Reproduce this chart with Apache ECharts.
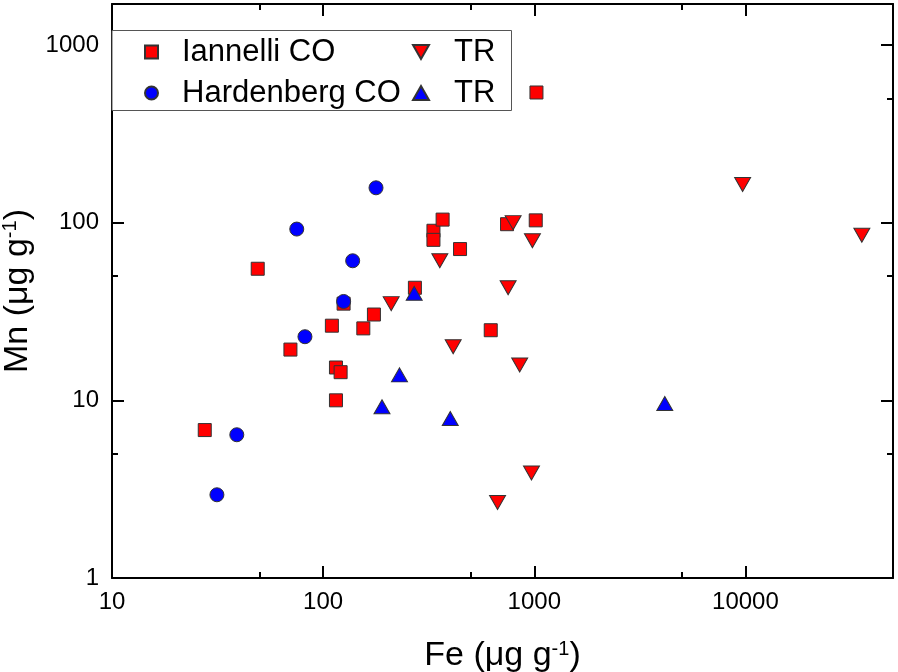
<!DOCTYPE html>
<html><head><meta charset="utf-8">
<script src="https://cdn.jsdelivr.net/npm/echarts@6/dist/echarts.min.js"></script>
<style>html,body{margin:0;padding:0;background:#fff}#c{width:898px;height:672px}</style>
</head><body><div id="c"></div>
<script>
// Iannelli CO (red squares)
const iannelliCO_Fe = [27.5, 49, 70, 110, 115, 121, 115, 125, 155, 174, 272, 333, 333, 368, 445, 622, 743, 1016, 1024];
const iannelliCO_Mn = [6.8, 55, 19.3, 26.3, 15.3, 14.4, 10, 35, 25.4, 30.4, 43, 90, 80, 104, 71, 24.8, 98, 103, 540];
// Iannelli TR (red down triangles)
const iannelliTR_Fe = [210, 357, 413, 670, 752, 794, 853, 970, 980, 9700, 35600];
const iannelliTR_Mn = [35, 61, 20, 2.66, 43, 100, 15.8, 3.9, 79, 164, 85];
// Hardenberg CO (blue circles)
const hardenbergCO_Fe = [31.4, 39, 75, 82, 125, 138, 178];
const hardenbergCO_Mn = [2.94, 6.4, 92, 22.8, 36, 61, 157];
// Hardenberg TR (blue up triangles)
const hardenbergTR_Fe = [190, 230, 270, 400, 4150];
const hardenbergTR_Mn = [9.2, 13.9, 40, 7.9, 9.6];

const xMajor = [10, 100, 1000, 10000];
const xMinor = [50, 500, 5000];
const yMajor = [1, 10, 100, 1000];
const yMinor = [5, 50, 500];
const xRange = [10, 50000];
const yRange = [1, 1700];

const FONT = 'Liberation Sans, Arial, sans-serif';
const zip = (a, b) => a.map((v, i) => [v, b[i]]);
const DOWN_TRI = 'path://M0,0 L16,0 L8,14 Z';

function axis(kind, pos, ticks, len, showLine, labels, extra) {
  const range = kind === 'x' ? xRange : yRange;
  return Object.assign({
    type: 'log', logBase: 10, min: range[0], max: range[1], position: pos,
    axisLine: { show: showLine, onZero: false, lineStyle: { color: '#000', width: 2 } },
    axisTick: { show: true, inside: true, length: len, customValues: ticks, lineStyle: { color: '#000', width: 2 } },
    axisLabel: labels ? { show: true, customValues: labels, formatter: v => String(Math.round(v)),
      fontSize: 24, fontFamily: FONT, color: '#000', margin: kind === 'x' ? 12 : 13 } : { show: false },
    splitLine: { show: false }, minorTick: { show: false }
  }, extra || {});
}

const chart = echarts.init(document.getElementById('c'), null, { renderer: 'canvas' });
const supRich = { sup: { fontSize: 20, fontFamily: FONT, color: '#000', verticalAlign: 'top', padding: [0, 0, 14, 0] } };
const legendText = { fontSize: 31, lineHeight: 30, fontFamily: FONT, color: '#000' };
chart.setOption({
  animation: false,
  backgroundColor: '#fff',
  grid: { left: 112, right: 5, top: 4, bottom: 94, containLabel: false, outerBoundsMode: 'none' },
  xAxis: [
    axis('x', 'bottom', xMajor, 12, true, xMajor, {
      name: 'Fe (μg g{sup|-1})', nameLocation: 'middle', nameGap: 61,
      nameTextStyle: { fontSize: 34, fontFamily: FONT, color: '#000', rich: supRich }
    }),
    axis('x', 'bottom', xMinor, 6, false, null),
    axis('x', 'top', xMajor, 12, true, null),
    axis('x', 'top', xMinor, 6, false, null)
  ],
  yAxis: [
    axis('y', 'left', yMajor, 12, true, yMajor, {
      name: 'Mn (μg g{sup|-1})', nameLocation: 'middle', nameRotate: 90, nameGap: 66,
      nameTextStyle: { fontSize: 34, fontFamily: FONT, color: '#000', rich: supRich }
    }),
    axis('y', 'left', yMinor, 6, false, null),
    axis('y', 'right', yMajor, 12, true, null),
    axis('y', 'right', yMinor, 6, false, null)
  ],
  graphic: [{
    type: 'rect', z: 3, silent: true,
    shape: { x: 112, y: 30.5, width: 399.5, height: 80 },
    style: { fill: '#fff', stroke: '#555', lineWidth: 1 }
  }],
  legend: [
    {
      data: [{ name: 'Iannelli CO', icon: 'rect' }, { name: 'Hardenberg CO', icon: 'circle' }],
      orient: 'vertical', left: 144, top: 36.5, padding: 0,
      itemWidth: 13, itemHeight: 13, itemGap: 10, selectedMode: false, z: 10,
      textStyle: Object.assign({ padding: [0, 0, 0, 19] }, legendText)
    },
    {
      data: [{ name: 'Iannelli TR', icon: DOWN_TRI }, { name: 'Hardenberg TR', icon: 'triangle' }],
      orient: 'vertical', left: 412, top: 36.5, padding: 0,
      itemWidth: 16, itemHeight: 14, itemGap: 10, selectedMode: false, z: 10,
      formatter: () => 'TR',
      textStyle: Object.assign({ padding: [0, 0, 0, 20] }, legendText)
    }
  ],
  series: [
    { name: 'Iannelli CO', type: 'scatter', symbol: 'rect', symbolSize: 13,
      data: zip(iannelliCO_Fe, iannelliCO_Mn),
      itemStyle: { color: '#ff0000', borderColor: '#333', borderWidth: 1, opacity: 1 } },
    { name: 'Iannelli TR', type: 'scatter', symbol: 'triangle', symbolRotate: 180, symbolSize: [16, 14],
      data: zip(iannelliTR_Fe, iannelliTR_Mn),
      itemStyle: { color: '#ff0000', borderColor: '#333', borderWidth: 1, opacity: 1 } },
    { name: 'Hardenberg CO', type: 'scatter', symbol: 'circle', symbolSize: 14,
      data: zip(hardenbergCO_Fe, hardenbergCO_Mn),
      itemStyle: { color: '#0000ff', borderColor: '#333', borderWidth: 1, opacity: 1 } },
    { name: 'Hardenberg TR', type: 'scatter', symbol: 'triangle', symbolSize: [16, 14],
      data: zip(hardenbergTR_Fe, hardenbergTR_Mn),
      itemStyle: { color: '#0000ff', borderColor: '#333', borderWidth: 1, opacity: 1 } }
  ]
});
</script></body></html>
